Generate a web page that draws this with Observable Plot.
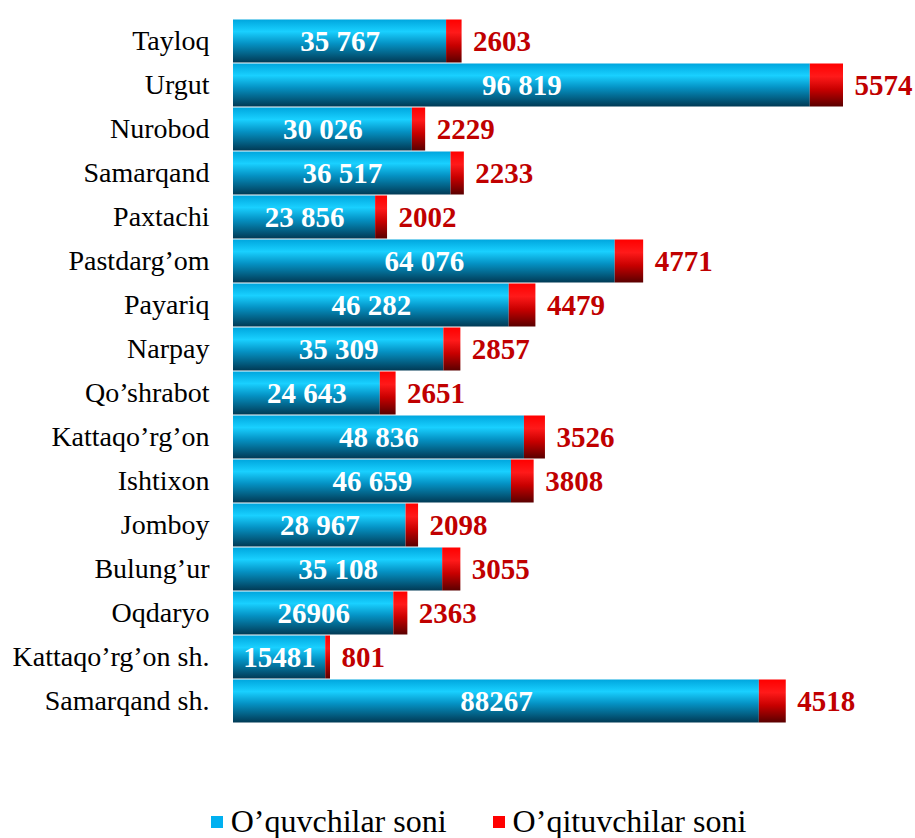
<!DOCTYPE html>
<html>
<head>
<meta charset="utf-8">
<script src="https://cdn.jsdelivr.net/npm/d3@7"></script>
<script src="https://cdn.jsdelivr.net/npm/@observablehq/plot@0.6"></script>
<style>
  html, body { margin: 0; padding: 0; background: #fff; }
  #chart { width: 915px; }
  .legend { height: 33px; display: flex; justify-content: center; align-items: center; padding-left: 42px;
    font-family: "Liberation Serif", "Times New Roman", serif; font-size: 32px; color: #000; }
  .legend .item { display: flex; align-items: center; margin: 0 23px; }
  .legend .sw { width: 12px; height: 12px; margin-right: 8px; }
</style>
</head>
<body>
<div id="chart"></div>
<script>
const categories = ["Tayloq","Urgut","Nurobod","Samarqand","Paxtachi","Pastdarg’om","Payariq","Narpay","Qo’shrabot","Kattaqo’rg’on","Ishtixon","Jomboy","Bulung’ur","Oqdaryo","Kattaqo’rg’on sh.","Samarqand sh."];
const students = [35767,96819,30026,36517,23856,64076,46282,35309,24643,48836,46659,28967,35108,26906,15481,88267];
const studentLabels = ["35 767","96 819","30 026","36 517","23 856","64 076","46 282","35 309","24 643","48 836","46 659","28 967","35 108","26906","15481","88267"];
const teachers = [2603,5574,2229,2233,2002,4771,4479,2857,2651,3526,3808,2098,3055,2363,801,4518];
const seriesNames = ["O’quvchilar soni","O’qituvchilar soni"];

const data = categories.map((c, i) => ({
  cat: c, s: students[i], t: teachers[i], sl: studentLabels[i], total: students[i] + teachers[i]
}));

const FONT = '"Liberation Serif", "Times New Roman", serif';

function defs() {
  const ns = "http://www.w3.org/2000/svg";
  const d = document.createElementNS(ns, "defs");
  const mk = (id, stops) => {
    const g = document.createElementNS(ns, "linearGradient");
    g.setAttribute("id", id);
    g.setAttribute("x1", "0"); g.setAttribute("y1", "0");
    g.setAttribute("x2", "0"); g.setAttribute("y2", "1");
    for (const [o, c] of stops) {
      const s = document.createElementNS(ns, "stop");
      s.setAttribute("offset", o); s.setAttribute("stop-color", c);
      g.appendChild(s);
    }
    d.appendChild(g);
  };
  mk("gBlue", [["0", "#00a6de"], ["0.28", "#19d0ff"], ["0.55", "#0594c6"], ["1", "#013a55"]]);
  mk("gRed", [["0", "#ff0000"], ["0.3", "#ff1a1a"], ["0.6", "#c80000"], ["1", "#5a0000"]]);
  return d;
}

const chart = Plot.plot({
  width: 915,
  height: 805,
  marginLeft: 233,
  marginRight: 72,
  marginTop: 13,
  marginBottom: 76,
  style: { fontFamily: FONT, background: "#fff" },
  x: { domain: [0, d3.max(data, d => d.total)], axis: null },
  y: { domain: categories, padding: 0, label: null },
  marks: [
    defs,
    Plot.axisY({ tickSize: 0, tickPadding: 24, fontSize: 28, fill: "#000", label: null, textAnchor: "end" }),
    Plot.barX(data, { y: "cat", x1: 0, x2: "s", fill: "url(#gBlue)", insetTop: 0.5, insetBottom: 0.5 }),
    Plot.barX(data, { y: "cat", x1: "s", x2: "total", fill: "url(#gRed)", insetTop: 0.5, insetBottom: 0.5 }),
    Plot.text(data, { y: "cat", x: d => d.s / 2, text: "sl", fill: "#fff", fontSize: 29, fontWeight: "bold", textAnchor: "middle" }),
    Plot.text(data, { y: "cat", x: "total", text: d => String(d.t), fill: "#c00000", fontSize: 29, fontWeight: "bold", textAnchor: "start", dx: 11 })
  ]
});
document.getElementById("chart").appendChild(chart);

const legend = document.createElement("div");
legend.className = "legend";
const swatchColors = ["#00b0f0", "#ff0000"];
seriesNames.forEach((n, i) => {
  const it = document.createElement("div"); it.className = "item";
  const sw = document.createElement("div"); sw.className = "sw"; sw.style.background = swatchColors[i];
  const tx = document.createElement("span"); tx.textContent = n;
  it.appendChild(sw); it.appendChild(tx);
  legend.appendChild(it);
});
document.getElementById("chart").appendChild(legend);
</script>
</body>
</html>
